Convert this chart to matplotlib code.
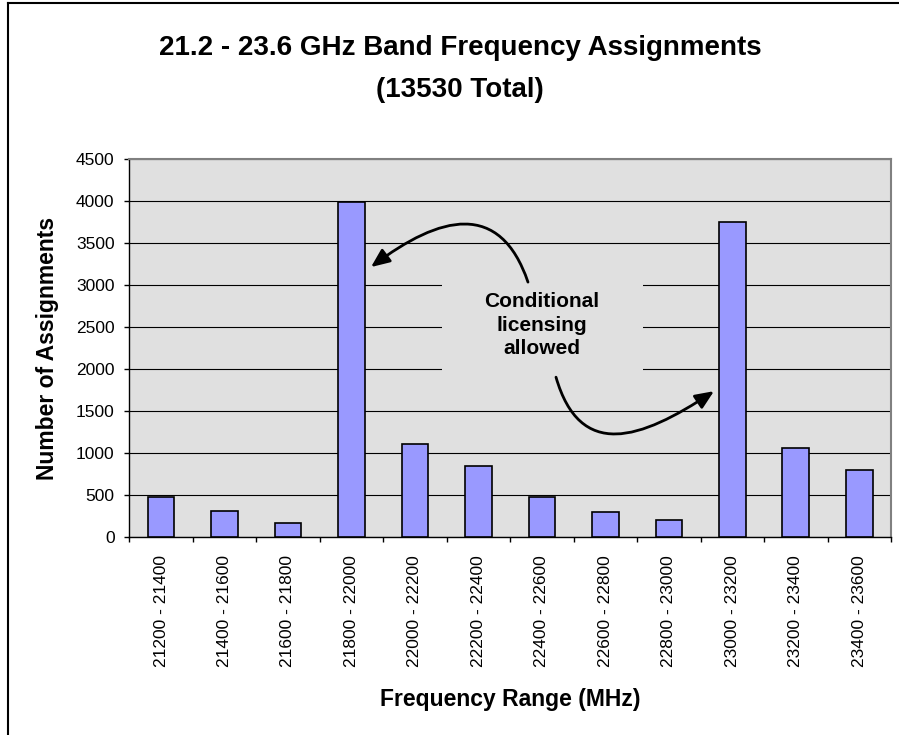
import matplotlib
matplotlib.use("Agg")
import matplotlib.pyplot as plt
from matplotlib.path import Path
from matplotlib.patches import FancyArrowPatch, Rectangle
from matplotlib.lines import Line2D

# ---- data ----
categories = ["21200 - 21400", "21400 - 21600", "21600 - 21800", "21800 - 22000",
              "22000 - 22200", "22200 - 22400", "22400 - 22600", "22600 - 22800",
              "22800 - 23000", "23000 - 23200", "23200 - 23400", "23400 - 23600"]
assignments = [480, 310, 165, 3985, 1110, 845, 480, 295, 205, 3755, 1065, 795]
y_ticks = [0, 500, 1000, 1500, 2000, 2500, 3000, 3500, 4000, 4500]
title_line1 = "21.2 - 23.6 GHz Band Frequency Assignments"
title_line2 = "(13530 Total)"
note_text = "Conditional\nlicensing\nallowed"

plt.rcParams['font.family'] = ['Liberation Sans', 'DejaVu Sans']

W, H = 899, 735
fig = plt.figure(figsize=(W / 100, H / 100), dpi=100)
fig.patch.set_facecolor('white')

ax = fig.add_axes([129.3 / W, 1 - 537 / H, (891 - 129.3) / W, (537 - 159) / H])
ax.set_facecolor('#e0e0e0')

xpos = list(range(len(categories)))
ax.bar(xpos, assignments, width=0.42, color='#9999ff', edgecolor='black',
       linewidth=1.2, zorder=3)

ax.set_xlim(-0.5, len(categories) - 0.5)
ax.set_ylim(y_ticks[0], y_ticks[-1])
ax.set_yticks(y_ticks)
ax.set_yticklabels([str(v) for v in y_ticks])
ax.set_xticks(xpos)
ax.set_xticklabels(categories, rotation=90)
ax.set_xticks([i - 0.5 for i in range(len(categories) + 1)], minor=True)
ax.tick_params(axis='x', which='major', length=0, pad=13, labelsize=12.5)
ax.tick_params(axis='x', which='minor', length=3.6, width=1, direction='out', color='black')
ax.tick_params(axis='y', which='major', length=3.6, width=1, pad=7, labelsize=12.5)
ax.yaxis.grid(True, color='black', linewidth=0.8)
ax.set_axisbelow(True)

for s in ('left', 'bottom'):
    ax.spines[s].set_color('black')
    ax.spines[s].set_linewidth(1.0)
for s in ('top', 'right'):
    ax.spines[s].set_color('#808080')
    ax.spines[s].set_linewidth(1.5)

# mask behind the note (hides gridlines there)
ax.add_patch(Rectangle((0.4101, 0.362), 0.2647, 0.3838, transform=ax.transAxes,
                       facecolor='#e0e0e0', edgecolor='none', zorder=1))

ax.text(0.5418, 0.5605, note_text, transform=ax.transAxes, ha='center', va='center',
        fontsize=15, fontweight='bold', linespacing=1.3, zorder=5)

# curved arrows (axes-fraction coordinates)
arrow_paths = [
    [(0.5234, 0.6743), (0.4867, 0.8915), (0.4079, 0.8517), (0.3173, 0.7141)],
    [(0.5602, 0.4228), (0.5917, 0.2031), (0.6705, 0.2560), (0.7676, 0.3858)],
]
for pts in arrow_paths:
    p = Path(pts, [Path.MOVETO, Path.CURVE4, Path.CURVE4, Path.CURVE4])
    arr = FancyArrowPatch(path=p, arrowstyle='-|>,head_length=0.7,head_width=0.3',
                          mutation_scale=16, color='black', linewidth=2.0,
                          transform=ax.transAxes, zorder=6)
    ax.add_patch(arr)

ax.set_xlabel("Frequency Range (MHz)", fontsize=16.5, fontweight='bold', va='baseline')
ax.xaxis.set_label_coords(0.5, (536.7 - 706) / 377.7)
ax.set_ylabel("Number of Assignments", fontsize=16.5, fontweight='bold', va='center')
ax.yaxis.set_label_coords((47.5 - 129.3) / 761.7, 0.5)

fig.text(460 / W, 1 - 55 / H, title_line1, ha='center', va='baseline',
         fontsize=20, fontweight='bold')
fig.text(460 / W, 1 - 97 / H, title_line2, ha='center', va='baseline',
         fontsize=20, fontweight='bold')

# outer frame (left and top)
fig.add_artist(Line2D([7.5 / W, 7.5 / W], [0, 1 - 2.5 / H], transform=fig.transFigure,
                      color='black', linewidth=1.5))
fig.add_artist(Line2D([7.5 / W, 1], [1 - 2.5 / H, 1 - 2.5 / H], transform=fig.transFigure,
                      color='black', linewidth=1.5))

fig.savefig("out.png", dpi=100)
